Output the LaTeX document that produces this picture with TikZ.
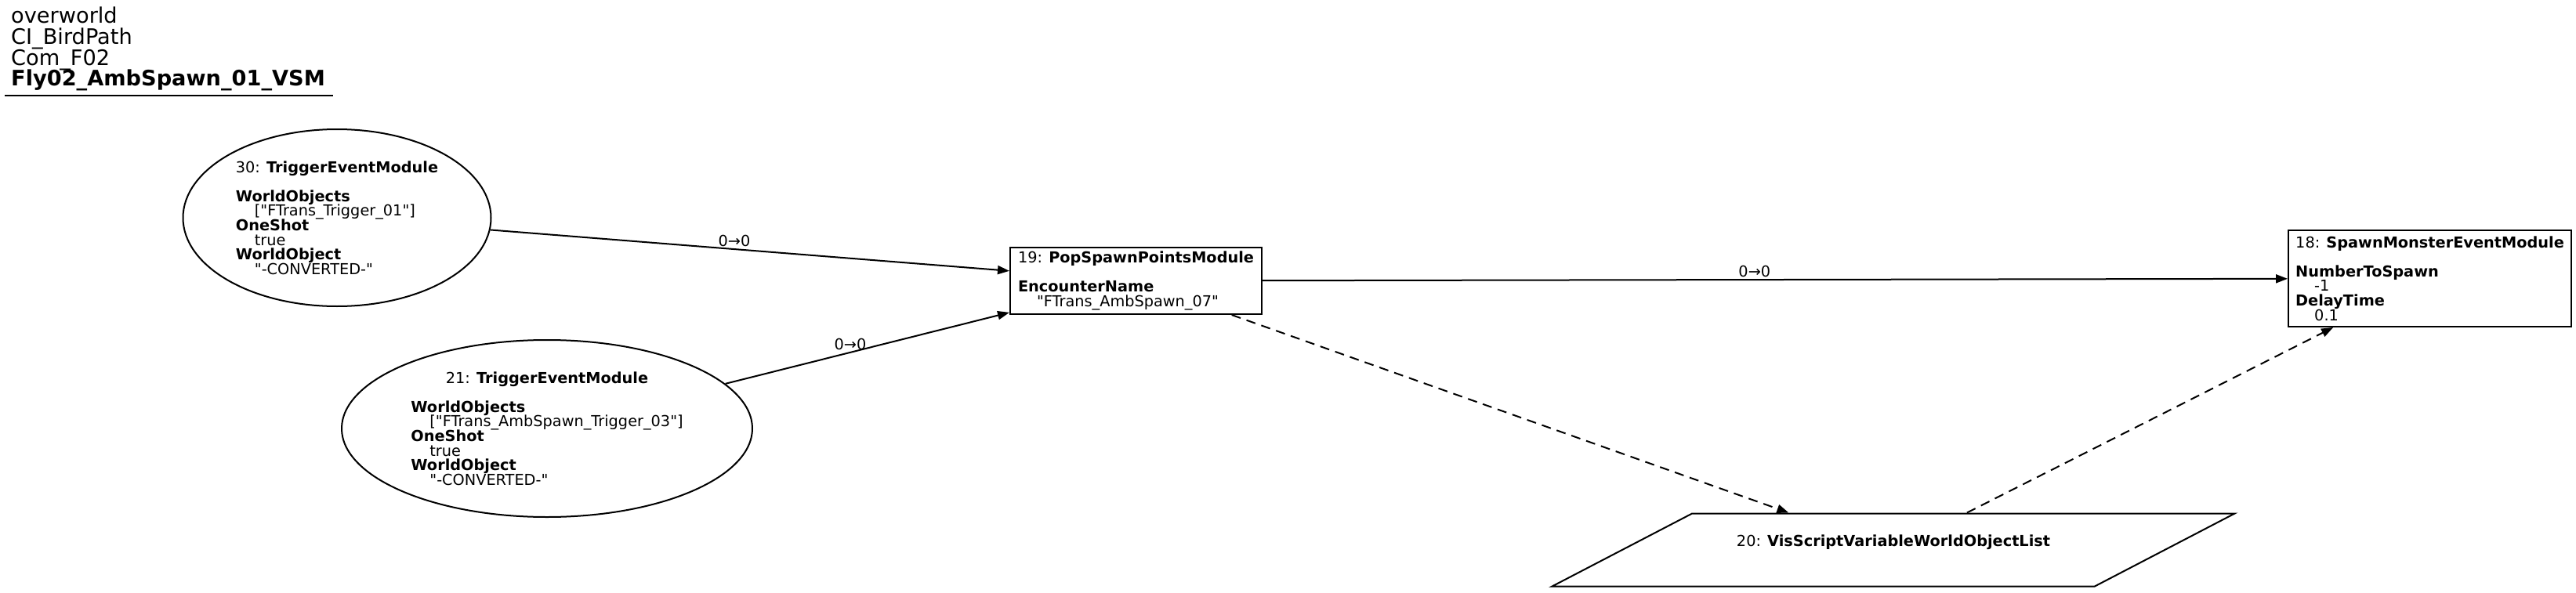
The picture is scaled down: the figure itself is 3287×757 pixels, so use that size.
\documentclass[tikz,border=0pt]{standalone}
\usepackage{fontspec}
\setmainfont{DejaVu Sans}[Ligatures=TeXOff]
\usepackage{calc}
\usepackage{tikz}
\usetikzlibrary{shapes.geometric,arrows.meta}
\newcommand{\nodefont}{\fontsize{19.3}{18.6}\selectfont\lineskiplimit=-100pt\relax}
\newcommand{\headfont}{\fontsize{27.2}{26.7}\selectfont\lineskiplimit=-100pt\relax}
\newcommand{\val}{\hspace*{24pt}}

\begin{document}
\begin{tikzpicture}[x=1pt,y=-1pt,
  every node/.style={font=\nodefont, inner sep=0pt, align=left},
  evt/.style={draw, ellipse, line width=2pt},
  mod/.style={draw, rectangle, line width=2pt},
  var/.style={draw, trapezium, trapezium left angle=27.5,
    trapezium right angle=152.5, trapezium stretches body, line width=2pt},
  link/.style={-{Triangle[length=15pt,width=11pt]}, line width=2pt},
  dlink/.style={link, dash pattern=on 12pt off 8pt},
  lbl/.style={above, inner sep=2pt}]
\useasboundingbox (0,0) rectangle (3287,757);
% heading
\node (head) [font=\headfont, anchor=north west] at (14,9)
  {overworld\\CI\_BirdPath\\Com\_F02\\\textbf{Fly02\_AmbSpawn\_01\_VSM}};
\draw[line width=2pt] (6,122) -- (425,122);
% modules
\node (trig30) [evt, minimum width=393, minimum height=226] at (430,278)
  {30: \textbf{TriggerEventModule}\\ \\ \textbf{WorldObjects}\\
   \val["FTrans\_Trigger\_01"]\\ \textbf{OneShot}\\ \val true\\
   \textbf{WorldObject}\\ \val"-CONVERTED-"};
\node (trig21) [evt, minimum width=524, minimum height=226] at (698,547)
  {\makebox[\widthof{\val["FTrans\_AmbSpawn\_Trigger\_03"]}][c]{21: \textbf{TriggerEventModule}}\\ \\
   \textbf{WorldObjects}\\
   \val["FTrans\_AmbSpawn\_Trigger\_03"]\\ \textbf{OneShot}\\ \val true\\
   \textbf{WorldObject}\\ \val"-CONVERTED-"};
\node (pop19) [mod, minimum width=321, minimum height=85] at (1449.5,358.5)
  {19: \textbf{PopSpawnPointsModule}\\ \\ \textbf{EncounterName}\\
   \val"FTrans\_AmbSpawn\_07"};
\node (spawn18) [mod, minimum width=361, minimum height=123] at (3100.5,355.5)
  {18: \textbf{SpawnMonsterEventModule}\\ \\ \textbf{NumberToSpawn}\\
   \val-1\\ \textbf{DelayTime}\\ \val 0.1};
\node (var20) [var, minimum width=871, text height=42pt, text depth=51pt] at (2416,702)
  {20: \textbf{VisScriptVariableWorldObjectList}};
% links
\draw[link] (trig30) -- node[lbl, pos=0.47] {0→0} (pop19);
\draw[link] (trig21) -- node[lbl, pos=0.44] {0→0} (pop19);
\draw[link] (pop19) -- node[lbl, pos=0.48] {0→0} (spawn18);
\draw[dlink] (pop19) -- (var20);
\draw[dlink] (var20) -- (spawn18);
\end{tikzpicture}
\end{document}
